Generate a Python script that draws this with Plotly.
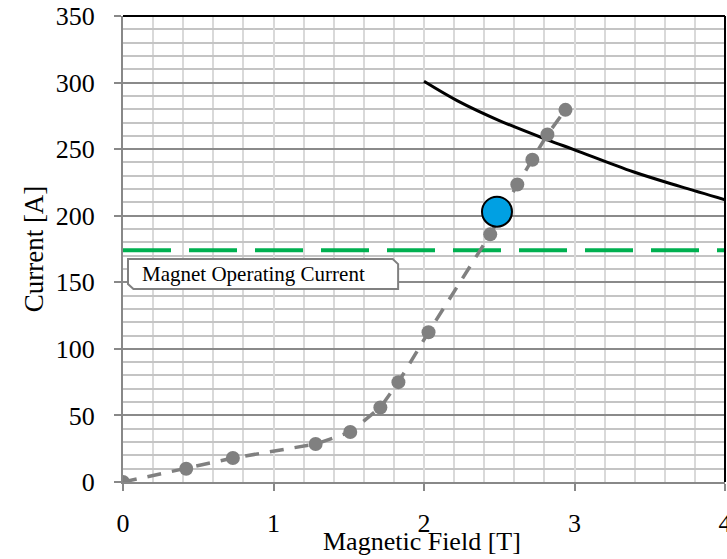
import plotly.graph_objects as go

# Measured magnet load line (gray dashed with markers)
field_T = [0.0, 0.42, 0.73, 1.28, 1.51, 1.71, 1.83, 2.03, 2.44, 2.62, 2.72, 2.82, 2.94]
current_A = [0, 10, 18, 28.5, 37.5, 56, 75, 112.5, 186, 223.5, 242, 261, 279.5]

# Critical current curve (black)
crit_field = [2.0, 2.22, 2.5, 2.82, 3.0, 3.39, 3.7, 4.0]
crit_current = [301, 286.5, 271.5, 257, 249.5, 233, 222, 212]

# Operating point (blue)
op_field = [2.485]
op_current = [203]

# Magnet operating current (green dashed)
oper_field = [0, 4]
oper_current = [174, 174]

font_family = "Liberation Serif"

fig = go.Figure()

fig.add_trace(go.Scatter(
    x=oper_field, y=oper_current, mode="lines",
    line=dict(color="#00b050", width=4, dash="48px,18px"),
    hoverinfo="skip", showlegend=False))

fig.add_trace(go.Scatter(
    x=crit_field, y=crit_current, mode="lines",
    line=dict(color="black", width=3, shape="spline"),
    showlegend=False))

fig.add_trace(go.Scatter(
    x=field_T, y=current_A, mode="lines+markers",
    line=dict(color="#808080", width=3.5, dash="14px,11px"),
    marker=dict(color="#808080", size=14),
    showlegend=False))

fig.add_trace(go.Scatter(
    x=op_field, y=op_current, mode="markers",
    marker=dict(color="#00a0e3", size=30, line=dict(color="black", width=2)),
    showlegend=False))

# Annotation box with bevelled corners
x0, x1, y0, y1 = 0.0083, 0.457, 0.414, 0.4785
bx, by = 0.009, 0.011
fig.add_shape(type="path", xref="paper", yref="paper",
              path=f"M {x0},{y1} L {x1-bx},{y1} L {x1},{y1-by} L {x1},{y0} "
                   f"L {x0+bx},{y0} L {x0},{y0+by} Z",
              line=dict(color="#808080", width=2), fillcolor="white", layer="above")
fig.add_annotation(xref="paper", yref="paper", x=0.216, y=(y0 + y1) / 2,
                   xanchor="center", yanchor="middle",
                   text="Magnet Operating Current", showarrow=False,
                   font=dict(family=font_family, size=21, color="black"))

# Top and right borders in black
fig.add_shape(type="line", xref="paper", yref="paper", x0=0, x1=1, y0=1, y1=1,
              line=dict(color="black", width=2), layer="above")
fig.add_shape(type="line", xref="paper", yref="paper", x0=1, x1=1, y0=0, y1=1,
              line=dict(color="black", width=2), layer="above")

# X axis title as annotation (overlaps tick labels like the reference)
fig.add_annotation(xref="paper", yref="paper", x=0.497, y=0, yshift=-59,
                   xanchor="center", yanchor="middle",
                   text="Magnetic Field [T]", showarrow=False,
                   font=dict(family=font_family, size=26, color="black"))

fig.update_layout(
    width=727, height=559,
    margin=dict(l=123, r=2, t=16, b=77),
    paper_bgcolor="white", plot_bgcolor="white",
    font=dict(family=font_family, size=26, color="black"),
    xaxis=dict(
        range=[0, 4], dtick=1, tick0=0, automargin=False,
        showline=True, linecolor="#888888", linewidth=2,
        ticks="outside", ticklen=7, tickcolor="#888888", tickwidth=1.5,
        ticklabelstandoff=10, ticklabeloverflow="allow",
        showgrid=True, gridcolor="#d9d9d9", gridwidth=1.5,
        minor=dict(dtick=0.2, showgrid=True, gridcolor="#d9d9d9", gridwidth=1.5),
        zeroline=False,
        tickfont=dict(family=font_family, size=26),
    ),
    yaxis=dict(
        range=[0, 350], dtick=50, tick0=0, automargin=False,
        showline=True, linecolor="#888888", linewidth=2,
        ticks="outside", ticklen=7, tickcolor="#888888", tickwidth=1.5,
        ticklabelstandoff=14, ticklabeloverflow="allow",
        showgrid=True, gridcolor="#8a8a8a", gridwidth=1.5,
        minor=dict(dtick=10, showgrid=True, gridcolor="#c4c4c4", gridwidth=1.5),
        zeroline=False,
        title=dict(text="Current [A]", font=dict(family=font_family, size=27), standoff=4),
        tickfont=dict(family=font_family, size=26),
    ),
)

fig.write_html("out.html", config={"displayModeBar": False},
               post_script="document.body.style.margin='0';document.body.style.overflow='hidden';")
